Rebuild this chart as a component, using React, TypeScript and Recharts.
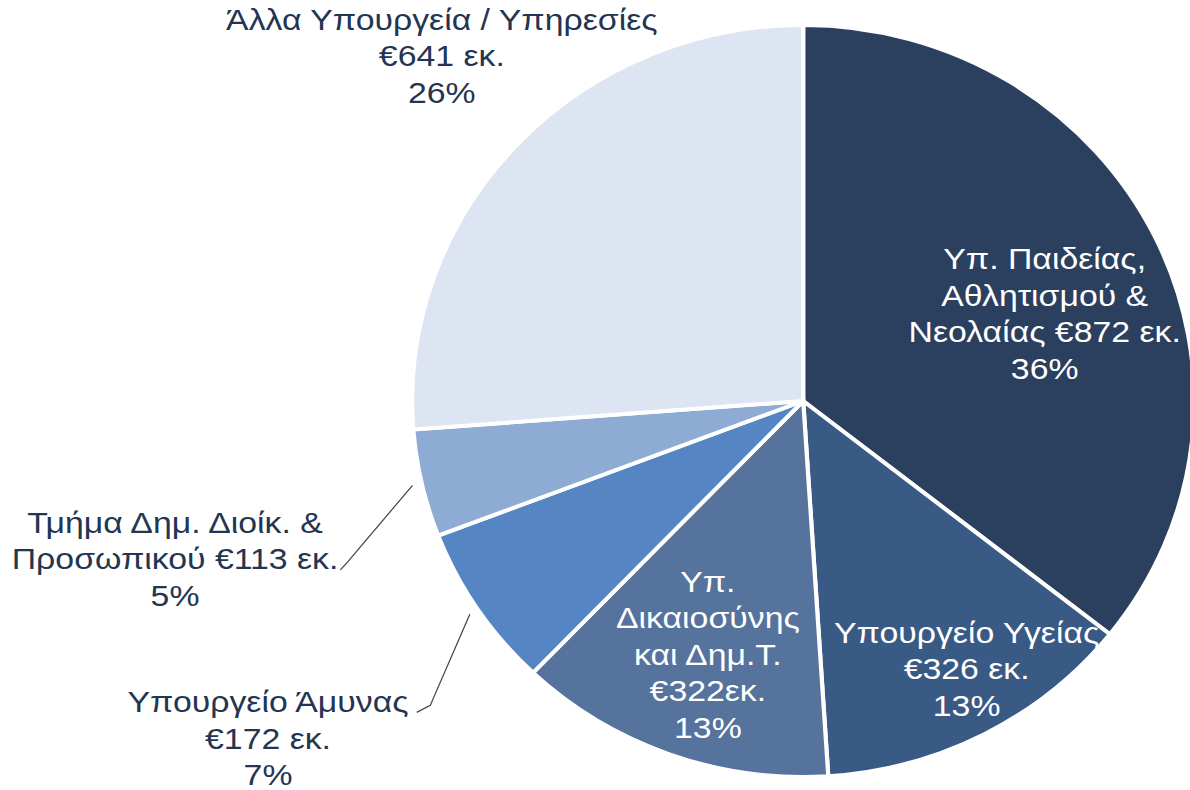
import { PieChart, Pie, Cell } from "recharts";

const names = [
  "Υπ. Παιδείας,|Αθλητισμού &|Νεολαίας",
  "Υπουργείο Υγείας",
  "Υπ.|Δικαιοσύνης|και Δημ.Τ.",
  "Υπουργείο Άμυνας",
  "Τμήμα Δημ. Διοίκ. &|Προσωπικού",
  "Άλλα Υπουργεία / Υπηρεσίες",
];
const values = [872, 326, 322, 172, 113, 641];
const valueOnNameLine = [true, false, false, false, true, false];
const unitText = [" εκ.", " εκ.", "εκ.", " εκ.", " εκ.", " εκ."];

const colors = ["#2b3f5f", "#3a5a86", "#56739d", "#5586c3", "#8eabd3", "#dde4f2"];
const textColors = ["#ffffff", "#ffffff", "#ffffff", "#243552", "#243552", "#243552"];

// label placement: point at rf * outerRadius on the mid angle, then nudged
const labelLayout = [
  { rf: 0.63, dx: 19, dy: 16 },
  { rf: 0.82, dx: 14, dy: -5 },
  { rf: 0.72, dx: 1, dy: -1 },
  { rf: 1.5, dx: -45, dy: 25, leader: [156, -33, 143, -26] },
  { rf: 1.6, dx: -17, dy: 26, leader: [166, 3, 159, 11] },
  { rf: 1.3, dx: 11, dy: -13 },
];

const data = names.map((n, i) => ({ name: n, value: values[i] }));

const RAD = Math.PI / 180;
const FONT = 30;
const LH = 36.5;
const STRETCH = 1.04; // reference pie is slightly wider than tall
const TEXT_STRETCH = 1.084;
const CX = 798;

function labelLines(i: number, percent: number) {
  const parts = names[i].split("|");
  const money = "€" + values[i] + unitText[i];
  if (valueOnNameLine[i]) parts[parts.length - 1] += " " + money;
  else parts.push(money);
  parts.push(Math.round(percent * 100) + "%");
  return parts;
}

function renderLabel(props: any) {
  const { cx, cy, midAngle, outerRadius, index, percent } = props;
  const lay = labelLayout[index];
  const cos = Math.cos(-midAngle * RAD);
  const sin = Math.sin(-midAngle * RAD);
  const x = cx + outerRadius * lay.rf * cos + lay.dx;
  const y = cy + outerRadius * lay.rf * sin + lay.dy;
  const lines = labelLines(index, percent);
  const n = lines.length;
  let leader = null;
  if (lay.leader) {
    const sx = cx + (outerRadius + 9) * cos;
    const sy = cy + (outerRadius + 9) * sin;
    const [ex, ey, hx, hy] = lay.leader;
    leader = (
      <polyline
        points={`${sx},${sy} ${x + ex},${y + ey} ${x + hx},${y + hy}`}
        fill="none"
        stroke="#444"
        strokeWidth={1.2}
      />
    );
  }
  return (
    <g key={`lbl-${index}`}>
      {leader}
      <text
        x={x}
        y={y}
        textAnchor="middle"
        fill={textColors[index]}
        fontSize={FONT}
        fontFamily="'Liberation Sans', Arial, sans-serif"
        transform={`matrix(${TEXT_STRETCH},0,0,1,${x - TEXT_STRETCH * x},0)`}
      >
        {lines.map((t, k) => (
          <tspan key={k} x={x} y={y + (k - (n - 1) / 2) * LH} dominantBaseline="central">
            {t}
          </tspan>
        ))}
      </text>
    </g>
  );
}

export default function App() {
  return (
    <div
      style={{
        position: "absolute",
        left: 0,
        top: 0,
        width: 1190,
        height: 790,
        overflow: "hidden",
        background: "#fff",
      }}
    >
      <div style={{ transform: `scaleX(${STRETCH})`, transformOrigin: `${CX}px 0` }}>
        <PieChart width={1190} height={790}>
          <Pie
            data={data}
            dataKey="value"
            nameKey="name"
            cx={CX}
            cy={396}
            outerRadius={376}
            startAngle={90}
            endAngle={-270}
            stroke="#ffffff"
            strokeWidth={4}
            label={renderLabel}
            labelLine={false}
            isAnimationActive={false}
          >
            {data.map((d, i) => (
              <Cell key={d.name} fill={colors[i]} />
            ))}
          </Pie>
        </PieChart>
      </div>
    </div>
  );
}
